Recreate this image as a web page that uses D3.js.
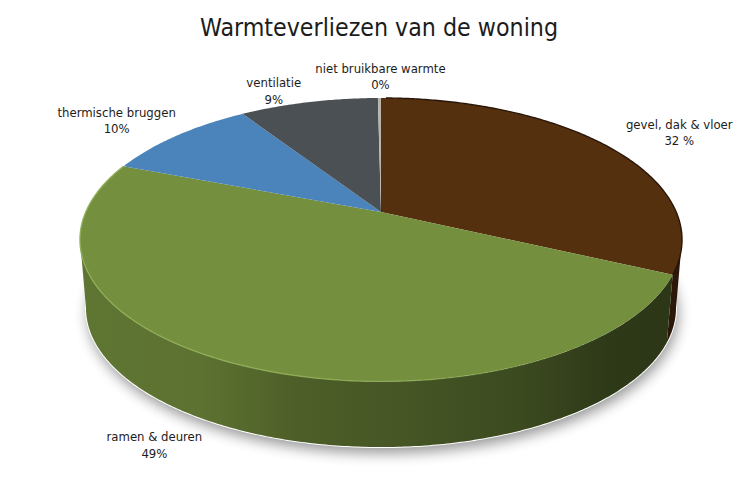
<!DOCTYPE html>
<html><head><meta charset="utf-8">
<style>html,body{margin:0;padding:0;background:#fff}svg{display:block}text{fill:#1c1c1c;font-family:"DejaVu Sans Condensed","DejaVu Sans",sans-serif}</style>
<script src="https://cdn.jsdelivr.net/npm/d3@7"></script></head><body>
<script>
const chartTitle = "Warmteverliezen van de woning";
const categories = ["gevel, dak & vloer","ramen & deuren","thermische bruggen","ventilatie","niet bruikbare warmte"];
const values = [32,49,10,9,0.2];
const valueLabels = ["32 %","49%","10%","9%","0%"];
const topColors = ["#55300f","#748f3d","#4a84bb","#4b5054","#b9b5ae"];
const labelOffsets = [[73,-14],[-86,79],[-60,-16],[-35,-12],[1,-22]];

const W=748,H=500;
const svg=d3.select("body").append("svg").attr("width",W).attr("height",H);
const defs=svg.append("defs");
defs.append("filter").attr("id","soft").attr("x","-10%").attr("y","-10%").attr("width","120%").attr("height","120%")
  .append("feGaussianBlur").attr("stdDeviation",7);

// perspective projection of the disc
const cx=381,cyTop=212,R=295.2,S=136.3,k=0.1955,cyBottom=281,sBottom=0.98;
const project=(a,cy,s)=>{const u=Math.sin(a),v=Math.cos(a),w=1+k*v;return [cx+s*R*u/w,cy-s*S*v/w];};
const top_=a=>project(a,cyTop,1), bottom=a=>project(a,cyBottom,sBottom);
const line=d3.line();
const steps=(a,b,st=0.01)=>{const n=Math.max(1,Math.ceil((b-a)/st));return d3.range(n+1).map(i=>a+(b-a)*i/n);};
// angles where the rim is at its horizontal extremes: the visible wall lies between them
const tangentRight=Math.acos(-k), tangentLeft=2*Math.PI-Math.acos(-k);

const arcs=d3.pie().sort(null).value(d=>d)(values);

// soft shadow under the base
const full=steps(0,2*Math.PI);
svg.append("path").attr("d",line(full.map(bottom))+"Z").attr("transform","translate(2,6)")
  .attr("fill","#000").attr("opacity",.42).attr("filter","url(#soft)");
svg.append("path").attr("d",line(full.map(bottom))+"Z").attr("fill","#fff").attr("stroke","#fff").attr("stroke-width",2);

// side wall: one path per slice, shaded by a horizontal gradient
const shadeX=[80,200,300,400,520,610,690], shadeF=[.82,.80,.66,.60,.52,.40,.38];
const sideG=svg.append("g");
arcs.forEach((d,i)=>{
  const a0=Math.max(d.startAngle,tangentRight),a1=Math.min(d.endAngle,tangentLeft);
  if(a1<=a0) return;
  const t=steps(a0,a1);
  const c=d3.rgb(topColors[i]);
  const g=defs.append("linearGradient").attr("id","side"+i).attr("gradientUnits","userSpaceOnUse")
    .attr("x1",shadeX[0]).attr("x2",shadeX[shadeX.length-1]).attr("y1",0).attr("y2",0);
  shadeX.forEach((x,j)=>{
    const f=i===0?.5:shadeF[j];
    g.append("stop").attr("offset",(x-shadeX[0])/(shadeX[shadeX.length-1]-shadeX[0]))
      .attr("stop-color",d3.rgb(c.r*f,c.g*f,c.b*f));
  });
  sideG.append("path").attr("d",line([...t.map(top_),...t.slice().reverse().map(bottom)])+"Z")
    .attr("fill",`url(#side${i})`);
});

// top face
svg.append("g").selectAll("path").data(arcs).join("path")
  .attr("d",d=>line([[cx,cyTop],...steps(d.startAngle,d.endAngle).map(top_)])+"Z")
  .attr("fill",(d,i)=>topColors[i]);

// rim highlights
const rim=svg.append("g").attr("fill","none");
rim.append("path").attr("d",line(steps(arcs[0].startAngle+.02,arcs[0].endAngle).map(top_)))
  .attr("stroke","#2a1608").attr("stroke-width",1.4);
const rimOpacity=d3.scaleLinear().domain([80,400,600]).range([1,.8,0]).clamp(true);
d3.pairs(steps(arcs[1].startAngle,arcs[1].endAngle,0.02)).forEach(([p,q])=>{
  const pts=[top_(p),top_(q)];
  rim.append("path").attr("d",line(pts)).attr("stroke","#8fae58").attr("stroke-width",1.4)
    .attr("opacity",rimOpacity(pts[0][0]));
});

// title + labels
svg.append("text").attr("x",379).attr("y",36).attr("text-anchor","middle").attr("font-size",24.7).text(chartTitle);
const lab=svg.append("g").attr("font-size",13).attr("text-anchor","middle");
arcs.forEach((d,i)=>{
  const m=top_((d.startAngle+d.endAngle)/2);
  const x=m[0]+labelOffsets[i][0],y=m[1]+labelOffsets[i][1];
  lab.append("text").attr("x",x).attr("y",y-3).text(categories[i]);
  lab.append("text").attr("x",x).attr("y",y+13.5).text(valueLabels[i]);
});
</script></body></html>
